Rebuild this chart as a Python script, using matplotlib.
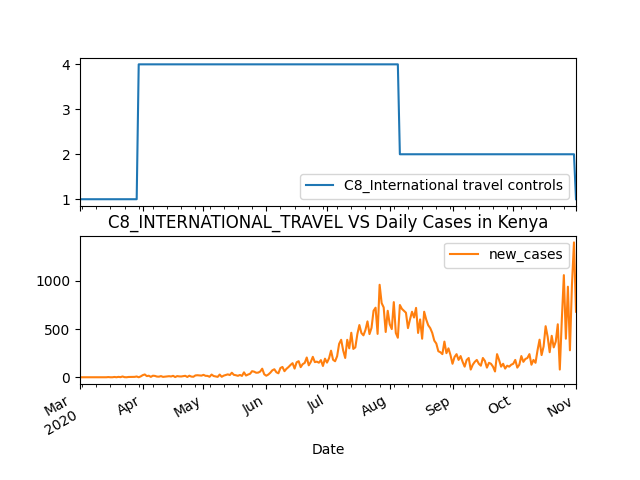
import pandas as pd
import matplotlib
matplotlib.use("Agg")
import matplotlib.pyplot as plt

# C8 policy level changes (date, level)
c8_changes = [("2020-03-01", 1), ("2020-03-30", 4), ("2020-08-06", 2), ("2020-11-01", 1)]

cases_mar = [0,0,0,0,0,0,0,0,0,0,0,0,1,0,2,0,0,3,0,4,1,8,1,0,3,3,3,4,8,0,9]
cases_apr = [22,29,12,16,4,16,14,7,6,12,4,6,7,11,8,15,2,12,9,8,11,15,3,16,7,5,19,21,19,17]
cases_may = [25,15,14,5,28,13,9,4,28,5,17,23,30,23,47,25,21,15,24,14,51,18,28,36,63,58,47,48,59,89,31]
cases_jun = [16,28,47,72,83,52,41,96,107,63,88,106,128,146,90,155,167,105,136,149,205,124,159,212,157,162,151,178,117,193]
cases_jul = [152,196,276,182,166,218,347,389,278,200,389,300,462,294,310,448,542,459,435,491,580,448,513,690,722,450,960,770,725,470,690]
cases_aug = [550,500,780,460,410,750,710,690,670,510,600,680,620,720,460,600,400,680,600,540,510,460,380,350,270,260,240,370,250,300,230]
cases_sep = [140,210,240,180,220,160,110,180,200,80,130,160,180,140,120,200,170,100,150,140,110,60,240,180,110,140,90,120,110,130]
cases_oct = [140,180,100,130,220,160,190,200,240,130,180,150,280,390,230,320,530,420,260,430,310,370,550,80,600,1060,400,940,280,960,1400]
cases_nov = [680]

new_cases = cases_mar + cases_apr + cases_may + cases_jun + cases_jul + cases_aug + cases_sep + cases_oct + cases_nov
dates = pd.date_range("2020-03-01", periods=len(new_cases), freq="D")

c8 = pd.Series(index=pd.to_datetime([d for d, _ in c8_changes]), data=[v for _, v in c8_changes], dtype=float)
c8 = c8.reindex(dates).ffill()

df = pd.DataFrame({"C8_International travel controls": c8.values, "new_cases": new_cases}, index=dates)
df.index.name = "Date"

axes = df.plot(subplots=True, figsize=(6.4, 4.8))
axes[0].legend(loc="lower right")
axes[1].legend(loc="upper right")
axes[1].set_title("C8_INTERNATIONAL_TRAVEL VS Daily Cases in Kenya")
fig = axes[0].get_figure()
fig.autofmt_xdate()
plt.savefig("out.png", dpi=100)
